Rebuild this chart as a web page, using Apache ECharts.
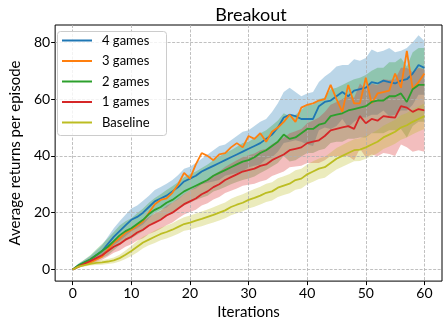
<!DOCTYPE html>
<html>
<head>
<meta charset="utf-8">
<title>Breakout</title>
<script src="https://cdn.jsdelivr.net/npm/echarts@6/dist/echarts.min.js"></script>
<style>
html, body { margin: 0; padding: 0; background: #fff; }
#chart { width: 445px; height: 325px; }
</style>
</head>
<body>
<div id="chart"></div>
<script>
// iterations 0..60
var iters = [];
for (var k = 0; k <= 60; k++) iters.push(k);

var xTicks = [0, 10, 20, 30, 40, 50, 60];
var yTicks = [0, 20, 40, 60, 80];

var names = ['4 games', '3 games', '2 games', '1 games', 'Baseline'];
var colors = ['#1f77b4', '#ff7f0e', '#2ca02c', '#d62728', '#bcbd22'];

// mean returns
var games4 = [0,1.5,2.5,3.5,5,6.5,9,11.5,13.5,15.5,
  17.5,18.5,20,22,24,25,26,27.5,29,31,
  32,33,34.5,35.5,36.5,37.5,38.5,39.5,40.5,41.5,
  42.5,43.5,44.5,46,47.5,50,53.5,54.5,54,53,
  53,53,57.5,59,59.5,61,62.5,61,63,63.5,
  64,66,65.5,66.5,66,65.5,66.5,67,69,72,71];
var games3 = [0,1,2,2.5,3.5,4.5,7,9.5,11,13,
  14,15.5,17,20,23,24.5,25,27,30,34,
  32,37,41,40,38.5,40.5,41,43,44.5,43,
  47,46,48,45,48.5,50,52,54.5,52,57,
  58,58.5,59.5,60,65,60,55.5,65,58.5,58.5,
  67.5,58.5,62,62.5,63,69,64,77,63.5,66,69];
var games2 = [0,1.5,2.5,3.5,5,6.5,8,10,12,13.5,
  14.5,16,17.5,19.5,21,22,23.5,24.5,26,27.5,
  28.5,29.5,30.5,31.5,33,34,35,36,37,38,
  38.5,39.5,41,42,43.5,45,47.5,46,46.5,48,
  49.5,49.5,51,51.5,54,54.5,55,56,56.5,57,
  57.5,59,59.5,59.5,61,61,62,59,63.5,65,65];
var games1 = [0,1,2,3,4,5,6.5,8,9,10.5,
  11.5,13,14,15.5,16.5,17.5,19,20,21.5,23,
  24,25,26.5,27.5,29,30,31.5,32.5,33.5,34.5,
  35,35.5,36.5,37,38.5,39.5,40.5,42,42.5,43,
  44.5,45,45.5,47,49,49.5,50,50.5,49.5,54,
  51.5,53,52.4,54,53.7,53.5,57.5,57,55.5,56.5,56];
var baseline = [0,1,1.5,2,2.3,2.5,2.8,3.2,4,5.2,
  6.5,8,9.5,10.5,11.5,12.5,13.2,14,15,16,
  16.5,17.2,17.8,18.5,19.2,20,20.8,22,22.8,23.5,
  24.5,25.2,26,27,27.5,28.8,29.5,30.2,31.5,32,
  33.5,34.5,35.5,36,37.5,39,40,41,42,42.2,
  43,44,45,46.5,47.5,48.5,50,50.8,52,53,54];

// spread (std) around the mean, 3 games has a single run
var std4 = [0,0.5,0.8,1.2,1.6,2,2.5,3,3.5,3.8,
  4,4,4.2,4,4,4,4.2,4,4.3,4.5,
  4.2,4.5,4.5,5,5.5,6,5.5,6,6.5,7,
  6.5,7,7.5,7,8,8.5,9,9.5,8.5,8,
  9,9.5,8.5,9,10,10.5,9.5,11,11,10,
  10.5,11.5,11,10.5,12,11,10.5,11,11,10.5,9.5];
var std2 = [0,0.6,1,1.5,2,2.5,3,3.2,3.5,3.5,
  3.5,3.8,4,4,4.2,4.5,4.5,4.8,4.8,5,
  5,5,5.2,5.5,5.5,5.8,6,6,6.2,6.5,
  6.5,6.8,7,7,7.2,7.5,7.5,8,8,8.2,
  8.5,8.5,9,9,9.5,9.5,10,10,10.5,10.5,
  11,11,11.5,11.5,12,12,12.5,12.5,13,13,13];
var std1 = [0,0.4,0.8,1.1,1.4,1.6,1.9,2.1,2.3,2.5,
  2.6,2.8,3,3,3.2,3.2,3.4,3.5,3.5,3.6,
  3.8,4,4,4.2,4.4,4.5,4.6,4.8,5,5,
  5.2,5.3,5.5,5.5,5.6,5.8,6,6,6.2,6.5,
  7,7.5,8,8.5,9,9.5,10,10.5,11,11.5,
  12,12.5,12.5,13,13,13.5,13.5,14,14,14.5,14.5];
var stdBase = [0,0.3,0.5,0.6,0.7,0.8,0.9,1,1.2,1.5,
  1.8,2,2,2,2.2,2.2,2.3,2.3,2.4,2.4,
  2.5,2.5,2.6,2.6,2.7,2.8,2.8,2.9,3,3,
  3,3.1,3.1,3.2,3.2,3.3,3.3,3.4,3.4,3.5,
  3.5,3.6,3.6,3.7,3.7,3.8,3.8,3.9,3.9,4,
  4,4,4.1,4.1,4.2,4.2,4.3,4.3,4.4,4.4,4.5];

var FONT = 'Lato, "DejaVu Sans", sans-serif';

function pairs(vals) {
  return iters.map(function (x, i) { return [x, vals[i]]; });
}

// shaded band (mean +- std) drawn as one polygon through the axis scales
function band(vals, sd, color) {
  return {
    type: 'custom',
    silent: true,
    z: 1,
    data: iters.map(function (x, i) { return [x, vals[i] - sd[i], vals[i] + sd[i]]; }),
    encode: { x: 0, y: [1, 2] },
    renderItem: function (params, api) {
      if (params.dataIndexInside !== 0) return;
      var up = [], dn = [];
      for (var i = 0; i < iters.length; i++) {
        up.push(api.coord([iters[i], vals[i] + sd[i]]));
        dn.push(api.coord([iters[i], vals[i] - sd[i]]));
      }
      return {
        type: 'polygon',
        shape: { points: up.concat(dn.reverse()) },
        style: { fill: color, opacity: 0.3 }
      };
    }
  };
}

function line(name, vals, color, z) {
  return {
    name: name, type: 'line', data: pairs(vals),
    symbol: 'none', z: z,
    lineStyle: { color: color, width: 1.8 },
    itemStyle: { color: color }
  };
}

var series = [
  band(games4, std4, colors[0]),
  band(games2, std2, colors[2]),
  band(games1, std1, colors[3]),
  band(baseline, stdBase, colors[4]),
  line(names[0], games4, colors[0], 3),
  line(names[1], games3, colors[1], 4),
  line(names[2], games2, colors[2], 5),
  line(names[3], games1, colors[3], 6),
  line(names[4], baseline, colors[4], 7)
];

// one legend per row so the row pitch is fixed
var legends = names.map(function (n, i) {
  return {
    data: [n],
    left: 62,
    top: 34 + i * 20.5,
    padding: 0,
    icon: 'rect',
    itemWidth: 30,
    itemHeight: 2,
    z: 10,
    textStyle: { fontFamily: FONT, fontSize: 13, color: '#000', padding: [0, 0, 0, 5] }
  };
});

var chart = echarts.init(document.getElementById('chart'), null, { renderer: 'canvas' });

var option = {
  animation: false,
  backgroundColor: '#fff',
  textStyle: { fontFamily: FONT },
  title: {
    text: 'Breakout',
    left: 246,
    textAlign: 'center',
    top: 1,
    textStyle: { fontFamily: FONT, fontSize: 18, fontWeight: 'normal', color: '#000' }
  },
  // legend frame
  graphic: [{
    type: 'rect',
    left: 57, top: 31, z: 9,
    shape: { width: 109, height: 104, r: 3 },
    style: { fill: 'rgba(255,255,255,0.8)', stroke: '#cccccc', lineWidth: 1 }
  }],
  legend: legends,
  grid: {
    left: 50.5, right: 3, top: 25, bottom: 43,
    show: true, borderColor: '#000', borderWidth: 1, backgroundColor: 'transparent'
  },
  xAxis: {
    type: 'value',
    min: -3, max: 63,
    z: 1.5,
    name: 'Iterations',
    nameLocation: 'middle',
    nameGap: 23,
    nameTextStyle: { fontFamily: FONT, fontSize: 15, color: '#000' },
    axisLine: { show: false, onZero: false },
    axisTick: { show: true, length: 4, customValues: xTicks, lineStyle: { color: '#000', width: 1 } },
    axisLabel: { customValues: xTicks, fontFamily: FONT, fontSize: 14, color: '#000', margin: 5 },
    splitLine: { show: true, lineStyle: { color: '#b0b0b0', width: 0.8, type: [3, 1.5] } }
  },
  yAxis: {
    type: 'value',
    min: -4.1, max: 86.1,
    z: 1.5,
    name: 'Average returns per episode',
    nameLocation: 'middle',
    nameGap: 31,
    nameRotate: 90,
    nameTextStyle: { fontFamily: FONT, fontSize: 15, color: '#000' },
    axisLine: { show: false, onZero: false },
    axisTick: { show: true, length: 4, customValues: yTicks, lineStyle: { color: '#000', width: 1 } },
    axisLabel: { customValues: yTicks, fontFamily: FONT, fontSize: 14, color: '#000', margin: 5 },
    splitLine: { show: true, lineStyle: { color: '#b0b0b0', width: 0.8, type: [3, 1.5] } }
  },
  series: series
};

chart.setOption(option);
</script>
</body>
</html>
